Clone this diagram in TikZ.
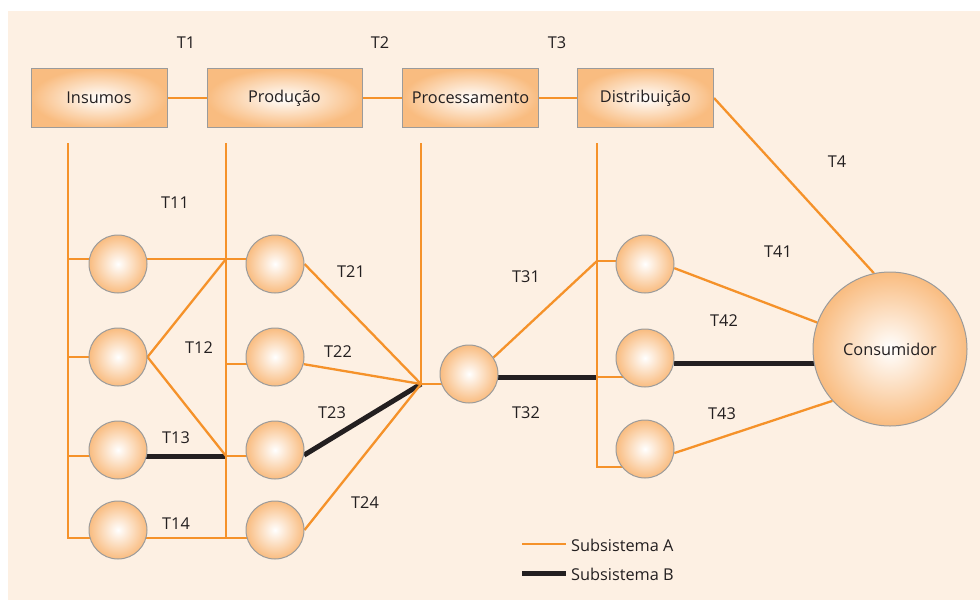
\documentclass[tikz,border=0pt]{standalone}
\usepackage{fontspec}
\setmainfont{Open Sans}
\usetikzlibrary{backgrounds}
\definecolor{peach}{HTML}{FDF0E3}
\definecolor{lineorange}{HTML}{F5922A}
\definecolor{ballorange}{HTML}{F9BC80}
\definecolor{rimgray}{HTML}{9B9B9B}
\definecolor{inkblack}{HTML}{231F20}
\tikzset{
  sub A/.style={lineorange, line width=2.3pt},
  sub B/.style={inkblack, line width=5pt},
  stage/.style={draw=rimgray, line width=1pt, inner color=white, outer color=ballorange, minimum width=136pt, minimum height=59pt, inner sep=0pt, text=inkblack},
  ball/.style={circle, draw=rimgray, line width=1pt, inner color=white, outer color=ballorange, minimum size=58pt, inner sep=0pt, text=inkblack},
  tag/.style={text=inkblack, inner sep=2pt}
}
\begin{document}
\begin{tikzpicture}[x=1pt, y=-1pt, font=\fontsize{16.3}{19}\selectfont]
\useasboundingbox (0,0) rectangle (980,600);

% stages
\node[stage] (ins) at (99,98) {Insumos};
\node[stage, minimum width=155pt] (prod) at (284.5,98) {Produção};
\node[stage] (proc) at (470.5,98) {Processamento};
\node[stage] (dist) at (645.5,98) {Distribuição};

% firms
\foreach \k/\y in {1/264,2/357,3/450,4/530}{
  \node[ball] (i\k) at (118,\y) {};
  \node[ball] (p\k) at (275,\y) {};
}
\node[ball] (m) at (469,374) {};
\foreach \k/\y in {1/264,2/358,3/449}
  \node[ball] (d\k) at (645,\y) {};
\node[ball, minimum size=154pt] (cons) at (890,349) {Consumidor};

% junctions
\coordinate (b1) at (68,143);
\coordinate (b2) at (226,143);
\coordinate (b3) at (421,143);
\coordinate (b4) at (597,143);
\coordinate (j11) at (226,259);
\coordinate (j13) at (226,456);
\coordinate (j22) at (226,364);
\coordinate (c1) at (68,538);
\coordinate (c2) at (226,538);
\coordinate (hub) at (421,384);
\coordinate (j31) at (597,261);
\coordinate (j32) at (597,377);
\coordinate (c4) at (597,467);

\begin{pgfonlayer}{background}
\fill[white] (0,0) rectangle (980,600);
\fill[peach] (8,11) rectangle (980,600);

\draw[sub B] (i3 |- j13) -- (j13);
\draw[sub B] (p3.-10) -- (hub);
\draw[sub B] (m |- j32) -- (j32);
\draw[sub B] (d2.-10) -- (d2.-10 -| cons);

\draw[sub A] (ins) -- (prod);
\draw[sub A] (prod) -- (proc);
\draw[sub A] (proc) -- (dist);
\draw[sub A] (dist.east) -- (cons.102);

\draw[sub A] (b1) -- (c1) -- (p4 |- c1);
\draw[sub A] (b1 |- j11) -- (p1 |- j11);
\draw[sub A] (b1 |- i2) -- (i2);
\draw[sub A] (b1 |- j13) -- (i3 |- j13);
\draw[sub A] (i2.east) -- (j11);
\draw[sub A] (i2.east) -- (j13);

\draw[sub A] (b2) -- (c2);
\draw[sub A] (j22) -- (p2 |- j22);
\draw[sub A] (j13) -- (p3 |- j13);
\draw[sub A] (p1.east) -- (hub);
\draw[sub A] (p2.-14) -- (hub);
\draw[sub A] (p4.east) -- (hub);

\draw[sub A] (b3) -- (hub) -- (m |- hub);
\draw[sub A] (m.34) -- (j31);

\draw[sub A] (b4) -- (c4) -- (d3 |- c4);
\draw[sub A] (j31) -- (d1 |- j31);
\draw[sub A] (j32) -- (d2 |- j32);
\draw[sub A] (d1.-8) -- (cons.160);
\draw[sub A] (d3.-8) -- (cons.222);
\end{pgfonlayer}

% transactions
\node[tag] (t1) at (186,43) {T1};
\node[tag] (t2) at (380,43) {T2};
\node[tag] (t3) at (557,43) {T3};
\node[tag] (t4) at (837,162) {T4};
\node[tag] (t11) at (175,203) {T11};
\node[tag] (t12) at (199,348) {T12};
\node[tag] (t13) at (176,438) {T13};
\node[tag] (t14) at (176,524) {T14};
\node[tag] (t21) at (351,272) {T21};
\node[tag] (t22) at (338,352) {T22};
\node[tag] (t23) at (332,413) {T23};
\node[tag] (t24) at (365,503) {T24};
\node[tag] (t31) at (526,277) {T31};
\node[tag] (t32) at (526,413) {T32};
\node[tag] (t41) at (778,252) {T41};
\node[tag] (t42) at (724,321) {T42};
\node[tag] (t43) at (722,414) {T43};

% legend
\node[tag, anchor=west, inner xsep=5pt] (leg a) at (566,545) {Subsistema A};
\node[tag, anchor=west, inner xsep=5pt] (leg b) at (566,574) {Subsistema B};
\coordinate (key a) at (522,544);
\coordinate (key b) at (522,573);
\draw[sub A] (key a) -- (key a -| leg a.west);
\draw[sub B] (key b) -- (key b -| leg b.west);
\end{tikzpicture}
\end{document}
